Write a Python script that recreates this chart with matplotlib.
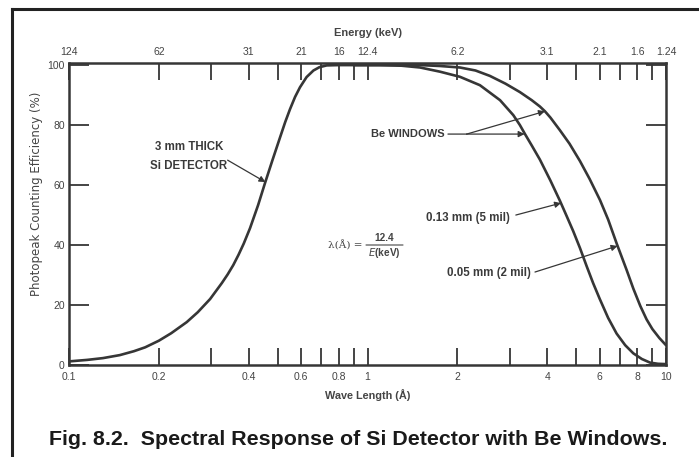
import matplotlib.pyplot as plt
from matplotlib.lines import Line2D

# Si detector rising edge (wavelength in A, efficiency in %)
wave_si = [0.1, 0.115, 0.13, 0.148, 0.165, 0.18, 0.2, 0.22, 0.248, 0.27, 0.297,
           0.325, 0.34, 0.355, 0.37, 0.385, 0.404, 0.43, 0.453, 0.48, 0.509, 0.53,
           0.55, 0.572, 0.594, 0.625, 0.659, 0.69, 0.73, 0.8, 0.9]
eff_si = [1.2, 1.7, 2.3, 3.3, 4.6, 5.9, 8.1, 10.6, 14.3, 17.6, 22, 27.3, 30.2, 33.3,
          36.8, 40.5, 45.6, 53.3, 60.5, 68.2, 75.8, 81, 85.3, 89.4, 92.6, 96, 98.2,
          99.3, 99.9, 100, 100]

# 0.05 mm (2 mil) Be window fall-off
wave_thin = [0.9, 1.2, 1.5, 1.75, 2.04, 2.3, 2.57, 2.9, 3.24, 3.55, 3.78, 3.93,
             4.1, 4.41, 4.75, 5.15, 5.55, 6.01, 6.4, 6.83, 7.38, 7.77, 8.2, 8.61,
             9.0, 9.5, 10]
eff_thin = [100, 100, 100, 99.7, 99.2, 98.2, 96.4, 93.8, 91, 88.3, 86.2, 84.6,
            82.5, 78.3, 73.8, 68, 62, 55, 48.5, 40.6, 31.7, 25.5, 19.7, 15.2,
            12, 9, 6.6]

# 0.13 mm (5 mil) Be window fall-off
wave_thick = [0.9, 1.1, 1.3, 1.5, 1.75, 2.04, 2.38, 2.78, 3.08, 3.24, 3.37, 3.55,
              3.78, 4.1, 4.41, 4.65, 4.89, 5.15, 5.42, 5.7, 6.0, 6.4, 6.83, 7.3,
              7.77, 8.3, 8.84, 9.4, 10]
eff_thick = [100, 100, 99.8, 99.2, 97.8, 96.1, 93.3, 88.3, 83.3, 80, 77, 73.2,
             68.5, 61.5, 54.8, 49.6, 44.6, 39, 33, 27.3, 22, 15.7, 10.5, 6.6,
             3.9, 2, 0.8, 0.4, 0.3]

wave_ticks = [0.1, 0.2, 0.3, 0.4, 0.5, 0.6, 0.7, 0.8, 0.9, 1,
              2, 3, 4, 5, 6, 7, 8, 9, 10]
wave_labels = ['0.1', '0.2', '', '0.4', '', '0.6', '', '0.8', '', '1',
               '2', '', '4', '', '6', '', '8', '', '10']
energy_labels = ['124', '62', '', '31', '', '21', '', '16', '', '12.4',
                 '6.2', '', '3.1', '', '2.1', '', '1.6', '', '1.24']
eff_ticks = [0, 20, 40, 60, 80, 100]

ink = '#363636'
txt = '#444444'
plt.rcParams['font.family'] = ['Liberation Sans', 'DejaVu Sans']

fig = plt.figure(figsize=(6.99, 4.57), dpi=100)
ax = fig.add_axes([69 / 699, 1 - 365 / 457, 597 / 699, 302 / 457])

for xs, ys in [(wave_si, eff_si), (wave_thin, eff_thin), (wave_thick, eff_thick)]:
    ax.plot(xs, ys, color=ink, lw=1.9, solid_joinstyle='round', solid_capstyle='round')

ax.set_xscale('log')
ax.set_xlim(0.1, 10)
ax.set_ylim(0, 100.7)
ax.minorticks_off()
ax.set_xticks(wave_ticks)
ax.set_xticklabels(wave_labels)
ax.set_yticks(eff_ticks)
ax.set_yticklabels([str(v) for v in eff_ticks])
ax.tick_params(axis='x', direction='in', length=12, width=1.3, color=ink,
               labelsize=7.5, labelcolor=txt, pad=5)
ax.tick_params(axis='y', direction='in', length=14.5, width=1.3, color=ink,
               labelsize=7.5, labelcolor=txt, pad=3, right=True)
for s in ax.spines.values():
    s.set_color(ink)
    s.set_linewidth(1.8)

top = ax.secondary_xaxis('top')
top.set_xticks(wave_ticks)
top.set_xticklabels(energy_labels)
top.tick_params(direction='in', length=12, width=1.3, color=ink,
                labelsize=7.5, labelcolor=txt, pad=4.5)
top.minorticks_off()
top.spines['top'].set_visible(False)
top.set_xlabel('Energy (keV)', fontsize=8, fontweight='bold', color=txt, labelpad=8)

ax.set_xlabel('Wave Length (Å)', fontsize=7.8, fontweight='bold', color=txt, labelpad=5)
ax.set_ylabel('Photopeak Counting Efficiency (%)', fontsize=8.5, family='DejaVu Sans',
              color=txt)
ax.yaxis.set_label_coords(-0.044, 0.568)

lbl = dict(fontsize=8.3, fontweight='bold', color='#3a3a3a')
arr = dict(arrowstyle='-|>', color=ink, lw=0.9, mutation_scale=9, shrinkA=0, shrinkB=0)

ax.text(0.252, 69.5, '3 mm THICK\nSi DETECTOR', ha='center', va='center',
        linespacing=1.7, **lbl)
ax.annotate('', xy=(0.455, 61), xytext=(0.34, 68.3), arrowprops=arr)

ax.text(1.81, 77, 'Be WINDOWS', ha='right', va='center', fontsize=8,
        fontweight='bold', color='#3a3a3a')
ax.annotate('', xy=(2.15, 77), xytext=(1.86, 77),
            arrowprops=dict(arrowstyle='-', color=ink, lw=0.9, shrinkA=0, shrinkB=0))
ax.annotate('', xy=(3.93, 84.6), xytext=(2.15, 77), arrowprops=arr)
ax.annotate('', xy=(3.36, 77), xytext=(2.15, 77), arrowprops=arr)

ax.text(1.57, 49, '0.13 mm (5 mil)', ha='left', va='center', **lbl)
ax.annotate('', xy=(4.45, 54), xytext=(3.14, 50), arrowprops=arr)

ax.text(1.84, 30.7, '0.05 mm (2 mil)', ha='left', va='center', **lbl)
ax.annotate('', xy=(6.88, 39.7), xytext=(3.64, 31), arrowprops=arr)

# wavelength / energy relation
ax.annotate('λ(Å) =', xy=(363, 457 - 245), xycoords='figure pixels', ha='right',
            va='center', fontsize=7.5, family='DejaVu Serif', color=txt)
ax.annotate('12.4', xy=(384, 457 - 238), xycoords='figure pixels', ha='center',
            va='center', fontsize=7.3, fontweight='bold', color=txt)
ax.annotate('$E$(keV)', xy=(384, 457 - 252.5), xycoords='figure pixels', ha='center',
            va='center', fontsize=7.3, fontweight='bold', color=txt)
ax.annotate('', xy=(403, 457 - 245), xytext=(366, 457 - 245), xycoords='figure pixels',
            textcoords='figure pixels',
            arrowprops=dict(arrowstyle='-', color=txt, lw=0.8, shrinkA=0, shrinkB=0))

# outer frame and caption
fig.add_artist(Line2D([12 / 699, 1.0], [1 - 9 / 457] * 2, color='#222222', lw=2.2,
                      transform=fig.transFigure))
fig.add_artist(Line2D([12 / 699] * 2, [1 - 9 / 457, 0.0], color='#222222', lw=2.2,
                      transform=fig.transFigure))
fig.text(49 / 699, 1 - 445 / 457, 'Fig. 8.2.  Spectral Response of Si Detector with Be Windows.',
         ha='left', va='baseline', fontsize=15.4, fontweight='bold', color='#1a1a1a')

fig.savefig('out.png', dpi=100)
